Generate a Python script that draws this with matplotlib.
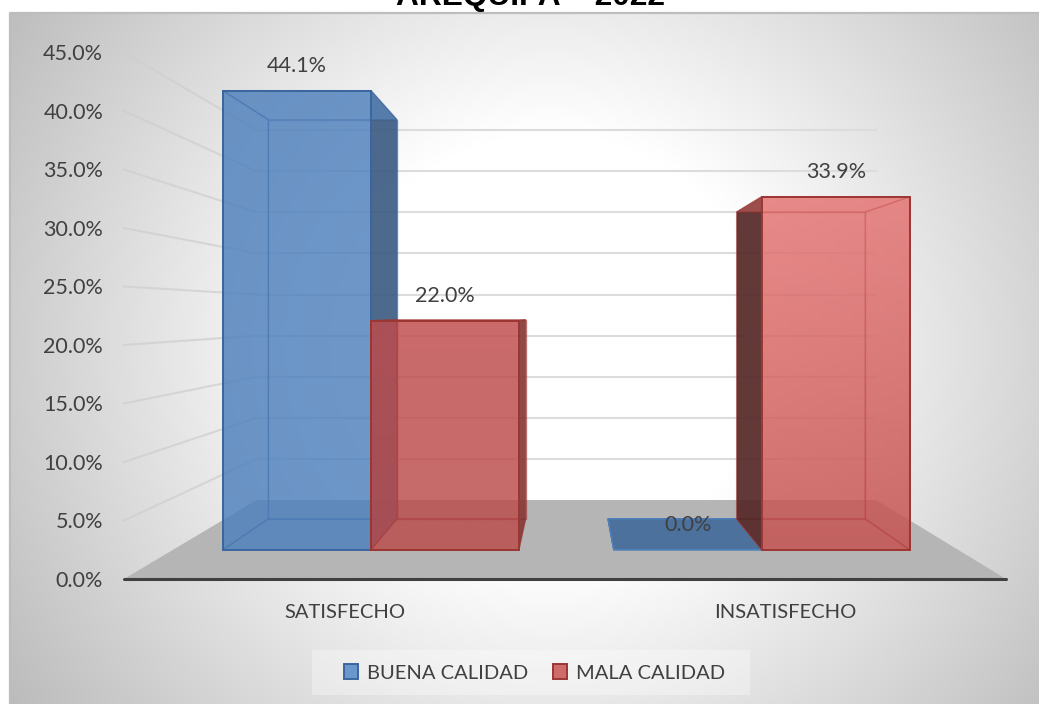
import numpy as np
import matplotlib
matplotlib.use("Agg")
import matplotlib.pyplot as plt
from matplotlib.patches import Polygon, Patch, Rectangle
from matplotlib.colors import to_rgb, to_rgba

categories = ["SATISFECHO", "INSATISFECHO"]
series_names = ["BUENA CALIDAD", "MALA CALIDAD"]
buena = [44.1, 0.0]
mala = [22.0, 33.9]
y_ticks = [0, 5, 10, 15, 20, 25, 30, 35, 40, 45]

W, H = 1039, 704
plt.rcParams['font.family'] = ['Lato', 'DejaVu Sans']
TXT = '#404040'
fig = plt.figure(figsize=(W/100, H/100), dpi=100, facecolor='white')

# background panel with radial gradient
bg = fig.add_axes([0, 0, 1, 1], zorder=0)
yy, xx = np.mgrid[0:H, 0:W]
d = np.sqrt(((xx-545)/530.0)**2 + ((yy-340)/520.0)**2)
t = np.clip((d-0.42)/0.78, 0, 1.5)
val = np.clip(255 - 64*t, 175, 255)/255.0
bg.imshow(np.dstack([val]*3), extent=(10, W, H, 13), aspect='auto', zorder=0)
bg.set_xlim(0, W); bg.set_ylim(H, 0); bg.axis('off')
bg.plot([10, 10, W], [H, 13, 13], color='#bdbdbd', lw=1.6, zorder=1)
bg.add_patch(Rectangle((312, 650), 438, 45, facecolor=(1, 1, 1, 0.32), edgecolor='none', zorder=1))

# main axes: axis plane in category/percent units
L, R, B, T = 124, 1006, 579, 52.5
ax = fig.add_axes([L/W, 1-B/H, (R-L)/W, (B-T)/H], zorder=2)
ax.patch.set_alpha(0)
ax.set_xlim(0, 2); ax.set_ylim(0, 45)

XV, YV = 1.011, 22.7          # vanishing point
R_WALL, R_FRONT, R_BACK = 0.7026, 0.8897, 0.7735
BAR_W = 0.377
GROUP_SHIFT = [0.004, 0.0]

def proj(X, v, r):
    return XV + (X-XV)*r, YV + (v-YV)*r

def poly(pts, fc, alpha, ec=None, lw=1.2, z=3):
    ax.add_patch(Polygon(pts, closed=True, facecolor=to_rgb(fc)+(alpha,),
                         edgecolor=ec if ec else 'none', linewidth=lw,
                         joinstyle='miter', clip_on=False, zorder=z))

# floor
poly([proj(0, 0, 1), proj(2, 0, 1), proj(2, 0, R_WALL), proj(0, 0, R_WALL)], '#b5b5b5', 1, z=1)

# gridlines
for v in y_ticks[1:]:
    a = proj(0, v, 1); b = proj(0, v, R_WALL); c = proj(2, v, R_WALL)
    ax.plot([a[0], b[0]], [a[1], b[1]], color='#cfcfcf', alpha=0.75, lw=1.5,
            clip_on=False, zorder=1.5)
    ax.plot([b[0], c[0]], [b[1], c[1]], color='#dcdcdc', lw=1.5,
            clip_on=False, zorder=1.5)

def bar3d(X0, X1, v, base, edge, side, z, grad=None):
    f = lambda X, val: proj(X, val, R_FRONT)
    k = lambda X, val: proj(X, val, R_BACK)
    A = 0.58
    soft = to_rgba(edge, 0.55)
    poly([k(X0, 0), k(X1, 0), k(X1, v), k(X0, v)], base, A, soft, 1.0, z)
    poly([f(X0, 0), f(X1, 0), k(X1, 0), k(X0, 0)], base, A, soft, 1.0, z)
    for Xs in (X0, X1):
        outer = (Xs == X1 and X1 < XV) or (Xs == X0 and X0 > XV)
        pts = [f(Xs, 0), k(Xs, 0), k(Xs, v), f(Xs, v)]
        if outer:
            poly(pts, side, 0.80, soft, 1.0, z+0.1)
        else:
            poly(pts, base, A, soft, 1.0, z+0.1)
    poly([f(X0, v), f(X1, v), k(X1, v), k(X0, v)], base, A, soft, 1.0, z+0.2)
    if v > 0:
        pts = [f(X0, 0), f(X1, 0), f(X1, v), f(X0, v)]
        if grad is None:
            poly(pts, base, A, edge, 1.4, z+0.3)
        else:
            top, bot = to_rgb(grad[0]), to_rgb(grad[1])
            n = 128
            s = np.linspace(0, 1, n)[:, None]
            rgba = np.zeros((n, 1, 4))
            for i in range(3):
                rgba[:, :, i] = top[i]*(1-s) + bot[i]*s
            rgba[:, :, 3] = A
            im = ax.imshow(rgba, extent=(pts[0][0], pts[1][0], pts[0][1], pts[2][1]),
                           origin='upper', aspect='auto', zorder=z+0.3)
            im.set_clip_path(Polygon(pts, closed=True, transform=ax.transData))
            ax.add_patch(Polygon(pts, closed=True, facecolor='none', edgecolor=edge,
                                 linewidth=1.4, clip_on=False, zorder=z+0.31))
    else:
        poly([f(X0, 0), f(X1, 0), k(X1, 0), k(X0, 0)], side, 0.8, base, 1.0, z+0.3)

BLUE, BLUE_E = '#4f81bd', '#3a669f'
RED, RED_E = '#c0504d', '#9c3633'
blue_sides = ['#3a577b', '#486b95']
red_sides = ['#7c3635', '#452121']
red_grads = [('#c04a4a', '#b8484a'), ('#f58181', '#c7504f')]

for i in range(len(categories)):
    X0 = i + 0.5 - BAR_W + GROUP_SHIFT[i]
    bar3d(X0, X0+BAR_W, buena[i], BLUE, BLUE_E, blue_sides[i], 3+i)
    bar3d(X0+BAR_W, X0+2*BAR_W, mala[i], RED, RED_E, red_sides[i], 3.5+i, red_grads[i])
    for X, v in ((X0+BAR_W/2, buena[i]), (X0+1.5*BAR_W, mala[i])):
        ax.annotate(f"{v:.1f}%", xy=proj(X, v, R_FRONT), xytext=(0, 18),
                    textcoords='offset points', ha='center', va='center',
                    fontsize=15.5, color=TXT, zorder=10, annotation_clip=False)
ax.set_xlim(0, 2); ax.set_ylim(0, 45)

# axes furniture
for s in ('top', 'left', 'right'):
    ax.spines[s].set_visible(False)
ax.spines['bottom'].set_color('#404040')
ax.spines['bottom'].set_linewidth(2.2)
ax.spines['bottom'].set_capstyle('round')
ax.spines['bottom'].set_zorder(9)
ax.set_yticks(y_ticks)
ax.set_yticklabels([f"{v:.1f}%" for v in y_ticks], fontsize=15.5, color=TXT)
ax.set_xticks([0.5, 1.5])
ax.set_xticklabels(categories, fontsize=14.5, color=TXT)
ax.tick_params(axis='y', length=0, pad=15)
ax.tick_params(axis='x', length=0, pad=18)

handles = [Patch(facecolor='#6c97cd', edgecolor=BLUE_E, lw=1.4),
           Patch(facecolor='#cf6c69', edgecolor=RED_E, lw=1.4)]
leg = fig.legend(handles, series_names, loc='center', bbox_to_anchor=(534.5/W, 1-673/H),
                 ncol=2, frameon=False, fontsize=14.5, labelcolor=TXT,
                 handlelength=0.72, handleheight=0.72, handletextpad=0.45, columnspacing=1.2,
                 borderpad=0.0)
leg.set_zorder(12)

fig.text(531/W, 1-5/H, "AREQUIPA \u2013 2022", ha='center', va='baseline', fontsize=22.8,
         fontweight='bold', family=['Liberation Sans', 'DejaVu Sans'], color='black')

fig.savefig('out.png', dpi=100)
